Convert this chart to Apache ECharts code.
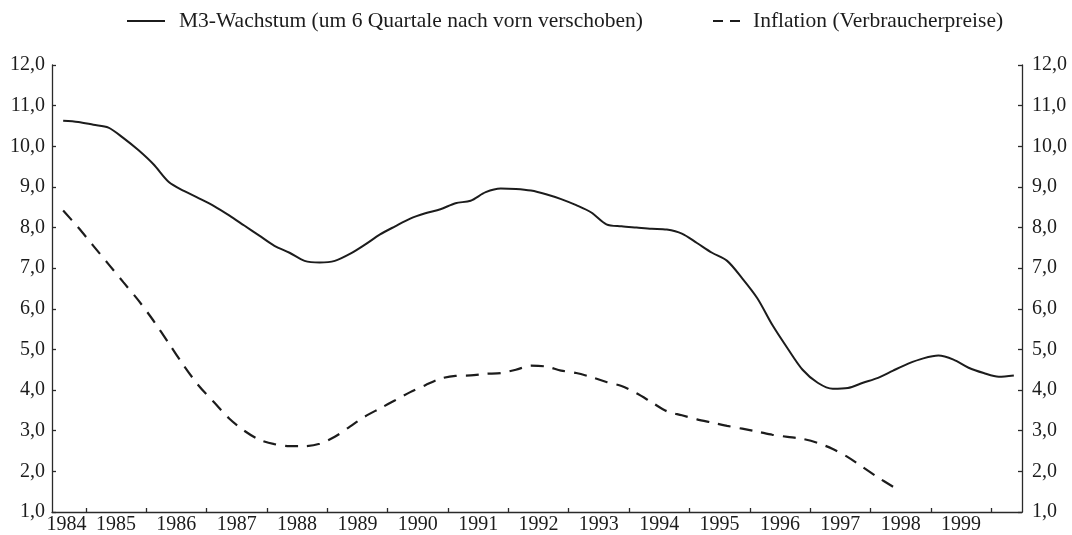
<!DOCTYPE html>
<html><head><meta charset="utf-8">
<script src="https://cdn.jsdelivr.net/npm/echarts@6/dist/echarts.min.js"></script>
<style>html,body{margin:0;padding:0;background:#fff}#c{width:1072px;height:535px}</style>
</head><body><div id="c"></div>
<script>
// ---- data ----
const seriesNames = ['M3-Wachstum (um 6 Quartale nach vorn verschoben)', 'Inflation (Verbraucherpreise)'];
const yearLabels = [1984, 1985, 1986, 1987, 1988, 1989, 1990, 1991, 1992, 1993, 1994, 1995, 1996, 1997, 1998, 1999];
const yearTicks = [1985, 1986, 1987, 1988, 1989, 1990, 1991, 1992, 1993, 1994, 1995, 1996, 1997, 1998, 1999, 2000];
const startYear = 1984, startQuarter = 3; // first quarterly observation: 1984 Q3
// M3 growth (quarterly, shifted by 6 quarters), 1984Q3 .. 2000Q2
const m3 = [10.63, 10.60, 10.53, 10.46, 10.20, 9.90, 9.55, 9.12, 8.90, 8.72,
            8.53, 8.30, 8.05, 7.80, 7.55, 7.38, 7.18, 7.14, 7.18, 7.35,
            7.58, 7.83, 8.03, 8.22, 8.35, 8.45, 8.60, 8.66, 8.87, 8.96,
            8.95, 8.91, 8.82, 8.70, 8.55, 8.37, 8.08, 8.03, 8.00, 7.97,
            7.95, 7.85, 7.62, 7.38, 7.18, 6.75, 6.26, 5.60, 5.03, 4.50,
            4.18, 4.03, 4.05, 4.18, 4.30, 4.48, 4.65, 4.78, 4.85, 4.75,
            4.55, 4.42, 4.33, 4.36];
// Inflation (consumer prices), 1984Q3 .. 1998Q2
const inflation = [8.42, 8.00, 7.55, 7.10, 6.65, 6.20, 5.70, 5.15, 4.60, 4.10,
                   3.70, 3.30, 3.00, 2.78, 2.67, 2.62, 2.62, 2.68, 2.85, 3.10,
                   3.35, 3.55, 3.75, 3.95, 4.12, 4.28, 4.35, 4.36, 4.40, 4.42,
                   4.50, 4.60, 4.58, 4.48, 4.42, 4.32, 4.20, 4.10, 3.92, 3.70,
                   3.48, 3.38, 3.28, 3.20, 3.12, 3.05, 2.98, 2.90, 2.85, 2.80,
                   2.70, 2.55, 2.35, 2.10, 1.85, 1.62];
const yMin = 1, yMax = 12, yStep = 1;

// ---- build ----
function quarterTime(i) {
  const q = startQuarter - 1 + i;
  return startYear + Math.floor(q / 4) + ((q % 4) + 0.5) / 4;
}
const toPairs = arr => arr.map((v, i) => [quarterTime(i), v]);
const labelPos = yearLabels.map((y, i) => i === 0 ? y + 0.68 : y + 0.5);

const FONT = 'Liberation Serif';
const INK = '#1c1c1c';
const axisLineStyle = { color: '#2a2a2a', width: 1.3 };
const yLabel = v => v.toFixed(1).replace('.', ',');

const chart = echarts.init(document.getElementById('c'), null, { renderer: 'canvas' });
chart.setOption({
  backgroundColor: '#fff',
  animation: false,
  textStyle: { fontFamily: FONT, color: INK },
  grid: { left: 52, right: 50, top: 65, bottom: 20, containLabel: false },
  legend: [
    { data: [seriesNames[0]], left: 122, top: 5, itemWidth: 38, itemHeight: 2,
      icon: 'path://M0,0H38V2H0Z', itemStyle: { color: INK },
      textStyle: { fontFamily: FONT, fontSize: 21.5, color: INK, padding: [0, 0, 0, 9] } },
    { data: [seriesNames[1]], left: 708, top: 5, itemWidth: 27, itemHeight: 2,
      icon: 'path://M0,0H10V2H0Z M17,0H27V2H17Z', itemStyle: { color: INK },
      textStyle: { fontFamily: FONT, fontSize: 21.5, color: INK, padding: [0, 0, 0, 8] } }
  ],
  xAxis: {
    type: 'value', min: 1984.44, max: 2000.51,
    splitLine: { show: false },
    axisLine: { show: true, lineStyle: axisLineStyle },
    axisTick: { show: true, inside: true, length: 4, lineStyle: axisLineStyle, customValues: yearTicks },
    axisLabel: { show: true, customValues: labelPos, formatter: v => String(Math.floor(v + 1e-6)),
                 fontFamily: FONT, fontSize: 20, color: INK, margin: 3, hideOverlap: false }
  },
  yAxis: [
    { type: 'value', position: 'left', min: yMin, max: yMax, interval: yStep,
      splitLine: { show: false },
      axisLine: { show: true, lineStyle: axisLineStyle },
      axisTick: { show: true, inside: true, length: 4, lineStyle: axisLineStyle },
      axisLabel: { formatter: yLabel, fontFamily: FONT, fontSize: 20, color: INK, margin: 7 } },
    { type: 'value', position: 'right', min: yMin, max: yMax, interval: yStep,
      splitLine: { show: false },
      axisLine: { show: true, lineStyle: axisLineStyle },
      axisTick: { show: true, inside: true, length: 4, lineStyle: axisLineStyle },
      axisLabel: { formatter: yLabel, fontFamily: FONT, fontSize: 20, color: INK, margin: 10 } }
  ],
  series: [
    { name: seriesNames[0], type: 'line', data: toPairs(m3), symbol: 'none', smooth: 0.3,
      lineStyle: { color: INK, width: 2, type: 'solid' }, itemStyle: { color: INK } },
    { name: seriesNames[1], type: 'line', data: toPairs(inflation), symbol: 'none', smooth: 0.3,
      lineStyle: { color: INK, width: 2.2, type: [13, 9] }, itemStyle: { color: INK } }
  ]
});
</script></body></html>
